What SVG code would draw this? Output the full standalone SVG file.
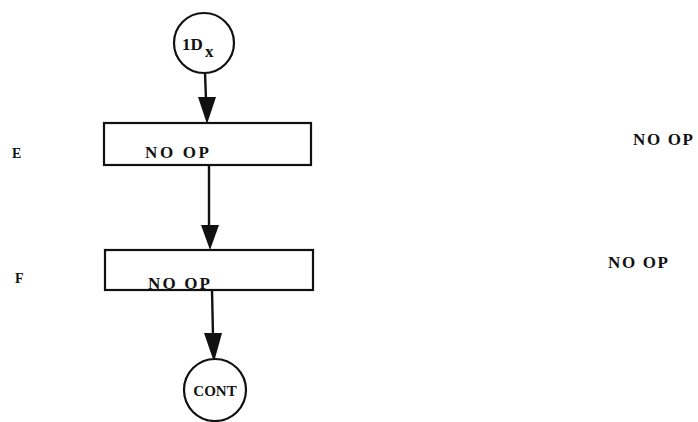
<svg xmlns="http://www.w3.org/2000/svg" width="698" height="422" viewBox="0 0 698 422">
<style>
.shape{fill:#fff;stroke:#111;stroke-width:2.2}
.conn{stroke:#111;stroke-width:2.4;fill:none}
.head{fill:#111}
.t{font-family:"Liberation Serif","DejaVu Serif",serif;font-weight:bold;font-size:17px;fill:#111}
.s{font-family:"Liberation Serif",serif;font-weight:bold;fill:#111}
</style>
<rect width="698" height="422" fill="#fff"/>
<g id="connectors">
<line class="conn" x1="205" y1="72" x2="206" y2="100"/>
<polygon class="head" points="198,97 216,97 207,124"/>
<line class="conn" x1="209" y1="165" x2="209" y2="228"/>
<polygon class="head" points="201,225 219,225 210,250"/>
<line class="conn" x1="212" y1="290" x2="213" y2="336"/>
<polygon class="head" points="204,333 222,333 214,362"/>
</g>
<g id="start">
<circle class="shape" cx="204" cy="43" r="30"/>
<text class="t" x="182" y="50" font-size="17">1D</text>
<text class="t" x="205" y="57" font-size="16">x</text>
</g>
<g id="E">
<rect class="shape" x="104" y="123" width="207" height="42"/>
<text class="t" x="145" y="158" textLength="64" lengthAdjust="spacing">NO OP</text>
</g>
<g id="F">
<rect class="shape" x="105" y="250" width="208" height="40"/>
<text class="t" x="148" y="289" textLength="62" lengthAdjust="spacing">NO OP</text>
</g>
<g id="cont">
<circle class="shape" cx="215" cy="390" r="31"/>
<text class="s" x="215" y="396" font-size="15" text-anchor="middle">CONT</text>
</g>
<g id="labels">
<text class="s" x="12" y="158" font-size="14">E</text>
<text class="s" x="15" y="283" font-size="14">F</text>
<text class="t" x="633" y="145" textLength="60" lengthAdjust="spacing">NO OP</text>
<text class="t" x="608" y="268" textLength="60" lengthAdjust="spacing">NO OP</text>
</g>
</svg>
